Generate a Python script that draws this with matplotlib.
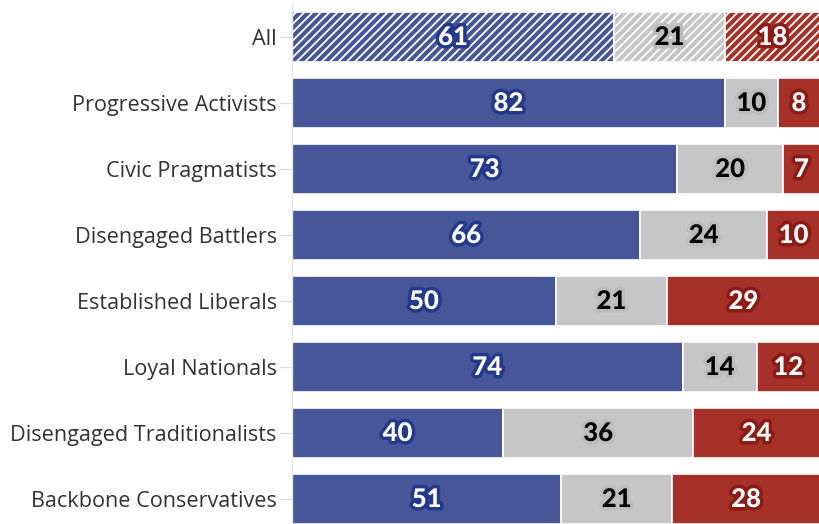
import matplotlib
matplotlib.use("Agg")
import matplotlib.pyplot as plt
import matplotlib.patheffects as pe
import numpy as np

categories = [
    "All",
    "Progressive Activists",
    "Civic Pragmatists",
    "Disengaged Battlers",
    "Established Liberals",
    "Loyal Nationals",
    "Disengaged Traditionalists",
    "Backbone Conservatives",
]
left_share = [61, 82, 73, 66, 50, 74, 40, 51]
middle_share = [21, 10, 20, 24, 21, 14, 36, 21]
right_share = [18, 8, 7, 10, 29, 12, 24, 28]

series = [left_share, middle_share, right_share]
fills = ["#465699", "#c6c6c6", "#a63128"]
text_colors = ["white", "black", "white"]
stroke_colors = ["#22398c", "#bdbdbd", "#8c1b16"]

plt.rcParams["hatch.linewidth"] = 1.3

fig = plt.figure(figsize=(8.19, 5.24), dpi=100)
ax = fig.add_axes([292 / 819, 0, 528 / 819, 1])

y = np.arange(len(categories))
bar_h = 0.76
starts = np.zeros(len(categories))
for vals, fc, tc, sc in zip(series, fills, text_colors, stroke_colors):
    vals = np.array(vals, dtype=float)
    for i, (v, s) in enumerate(zip(vals, starts)):
        hatch = "////" if i == 0 else None
        ax.barh(y[i], v, left=s, height=bar_h, color=fc, edgecolor="white",
                linewidth=1.2, hatch=hatch)
        ax.text(s + v / 2, y[i], f"{int(v)}", ha="center", va="center",
                color=tc, fontsize=18.5, fontweight="black", family="Lato",
                path_effects=[pe.withStroke(linewidth=5, foreground=sc)])
    starts += vals

ax.set_xlim(0, 100)
ax.set_ylim((524 - 37) / 66, -37 / 66)
ax.set_yticks(y)
ax.set_yticklabels(categories, family="Open Sans", fontsize=15.6, color="#333333")
ax.tick_params(axis="y", length=9, width=1, color="#dddddd", pad=2)
ax.set_xticks([])
for side in ["top", "right", "bottom"]:
    ax.spines[side].set_visible(False)
ax.spines["left"].set_color("#e6e6e6")
ax.spines["left"].set_linewidth(1)
ax.spines["left"].set_bounds(-0.5, 7.5)

fig.savefig("out.png", dpi=100)
